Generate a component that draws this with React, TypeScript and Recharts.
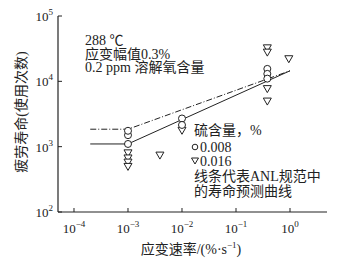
import { ComposedChart, Scatter, Line, XAxis, YAxis } from "recharts"

const xTicks = [1e-4, 1e-3, 1e-2, 1e-1, 1]
const xTickExp = ["−4", "−3", "−2", "−1", "0"]
const yTicks = [100, 1000, 10000, 100000]
const yTickExp = ["2", "3", "4", "5"]

// 硫含量 0.008 %
const lowSulfur = [
  { x: 0.001, y: 1100 },
  { x: 0.001, y: 1500 },
  { x: 0.001, y: 1750 },
  { x: 0.01, y: 2700 },
  { x: 0.01, y: 2150 },
  { x: 0.38, y: 15500 },
  { x: 0.38, y: 13000 },
  { x: 0.38, y: 11000 },
]

// 硫含量 0.016 %
const highSulfur = [
  { x: 0.001, y: 790 },
  { x: 0.001, y: 660 },
  { x: 0.001, y: 570 },
  { x: 0.001, y: 490 },
  { x: 0.0039, y: 730 },
  { x: 0.01, y: 1750 },
  { x: 0.38, y: 32000 },
  { x: 0.38, y: 27500 },
  { x: 0.38, y: 7600 },
  { x: 0.38, y: 4900 },
  { x: 0.95, y: 21800 },
]

// ANL prediction curves
const anlHigh = [
  { x: 0.0002, y: 1100 },
  { x: 0.001, y: 1100 },
  { x: 1, y: 14500 },
]
const anlLow = [
  { x: 0.0002, y: 1850 },
  { x: 0.001, y: 1850 },
  { x: 1, y: 14500 },
]

const serif = "'Liberation Serif', 'Noto Sans CJK SC', serif"
const ink = "#222"

const XTick = ({ x, y, index }: any) => (
  <g>
    <line x1={x} y1={y} x2={x} y2={y - 4} stroke={ink} strokeWidth={1} />
    <text x={x} y={y + 21} textAnchor="middle" fontFamily={serif} fontSize={13} fill={ink}>
      <tspan>10</tspan>
      <tspan dy={-6} fontSize={9}>{xTickExp[index]}</tspan>
    </text>
  </g>
)

const YTick = ({ x, y, index }: any) => (
  <g>
    <line x1={x} y1={y} x2={x + 4} y2={y} stroke={ink} strokeWidth={1} />
    <text x={x - 5} y={y + 5} textAnchor="end" fontFamily={serif} fontSize={13} fill={ink}>
      <tspan>10</tspan>
      <tspan dy={-6} fontSize={9}>{yTickExp[index]}</tspan>
    </text>
  </g>
)

const Circle = ({ cx, cy }: any) => (
  <circle cx={cx} cy={cy} r={3.5} fill="#fff" stroke={ink} strokeWidth={1} />
)

const Triangle = ({ cx, cy }: any) => (
  <path
    d={`M${cx - 4},${cy - 3.5}L${cx + 4},${cy - 3.5}L${cx},${cy + 3.5}Z`}
    fill="#fff"
    stroke={ink}
    strokeWidth={1}
  />
)

export default function App() {
  return (
    <div style={{ position: "absolute", left: 0, top: 0, background: "#fff" }}>
      <ComposedChart width={339} height={266} margin={{ top: 16, right: 12, left: 0, bottom: 0 }}>
        <XAxis
          dataKey="x"
          type="number"
          scale="log"
          domain={[Math.pow(10, -4.296), Math.pow(10, 0.685)]}
          allowDataOverflow
          ticks={xTicks}
          tick={<XTick />}
          tickLine={false}
          tickSize={0}
          tickMargin={0}
          height={54}
          axisLine={{ stroke: ink, strokeWidth: 1.2 }}
        />
        <YAxis
          dataKey="y"
          type="number"
          scale="log"
          domain={[100, 100000]}
          allowDataOverflow
          ticks={yTicks}
          tick={<YTick />}
          tickLine={false}
          tickSize={0}
          tickMargin={0}
          width={58}
          axisLine={{ stroke: ink, strokeWidth: 1.2 }}
        />
        <Line data={anlHigh} dataKey="y" type="linear" stroke={ink} strokeWidth={1} dot={false} isAnimationActive={false} />
        <Line
          data={anlLow}
          dataKey="y"
          type="linear"
          stroke={ink}
          strokeWidth={1}
          strokeDasharray="6 2 1 2"
          dot={false}
          isAnimationActive={false}
        />
        <Scatter data={highSulfur} dataKey="y" shape={<Triangle />} isAnimationActive={false} />
        <Scatter data={lowSulfur} dataKey="y" shape={<Circle />} isAnimationActive={false} />

        <text x={85} y={45} fontFamily={serif} fontSize={14} fill={ink}>288 ℃</text>
        <text x={85} y={58.5} fontFamily={serif} fontSize={14} fill={ink}>应变幅值0.3%</text>
        <text x={85} y={72} fontFamily={serif} fontSize={14} fill={ink}>0.2 ppm 溶解氧含量</text>

        <text x={194} y={135} fontFamily={serif} fontSize={14} fill={ink}>硫含量，%</text>
        <circle cx={195} cy={147} r={2.8} fill="#fff" stroke={ink} strokeWidth={1} />
        <text x={200} y={152} fontFamily={serif} fontSize={14} fill={ink}>0.008</text>
        <path d="M191.5,158L198.5,158L195,164Z" fill="#fff" stroke={ink} strokeWidth={1} />
        <text x={200} y={166} fontFamily={serif} fontSize={14} fill={ink}>0.016</text>
        <text x={194} y={181} fontFamily={serif} fontSize={14} fill={ink}>线条代表ANL规范中</text>
        <text x={194} y={196} fontFamily={serif} fontSize={14} fill={ink}>的寿命预测曲线</text>

        <text x={191} y={254} textAnchor="middle" fontFamily={serif} fontSize={14} fill={ink}>
          <tspan>应变速率/(%·s</tspan>
          <tspan dy={-6} fontSize={9}>−1</tspan>
          <tspan dy={6}>)</tspan>
        </text>
        <text
          x={0}
          y={0}
          transform="translate(26,112) rotate(-90)"
          textAnchor="middle"
          fontFamily={serif}
          fontSize={14}
          fill={ink}
        >
          疲劳寿命(使用次数)
        </text>
      </ComposedChart>
    </div>
  )
}
